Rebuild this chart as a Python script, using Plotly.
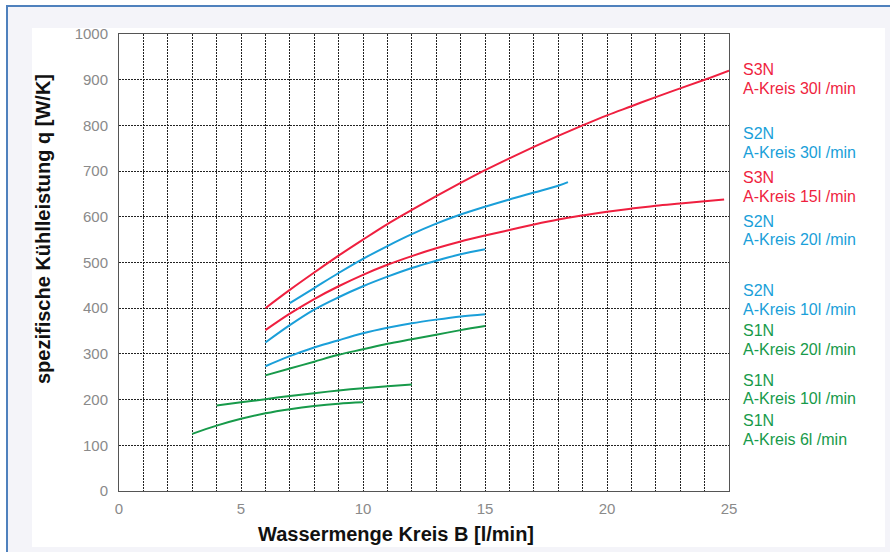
import plotly.graph_objects as go

# ---------------- data ----------------
x_s3n_30 = [6, 7, 8, 9, 10, 11, 12, 13, 14, 15, 16, 17, 18, 19, 20, 21, 22, 23, 24, 25]
y_s3n_30 = [400, 440, 478, 515, 550, 584, 615, 645, 674, 702, 728, 753, 777, 800, 822, 842, 862, 881, 900, 920]

x_s2n_30 = [7, 8, 9, 10, 11, 12, 13, 14, 15, 16, 17, 18, 18.4]
y_s2n_30 = [411, 444, 477, 508, 536, 562, 585, 605, 622, 638, 653, 668, 676]

x_s3n_15 = [6, 7, 8, 9, 10, 11, 12, 13, 14, 15, 16, 17, 18, 19, 20, 21, 22, 23, 24, 24.8]
y_s3n_15 = [352, 388, 420, 448, 473, 495, 514, 531, 546, 559, 571, 583, 594, 603, 611, 618, 624, 629, 634, 638]

x_s2n_20 = [6, 7, 8, 9, 10, 11, 12, 13, 14, 15]
y_s2n_20 = [325, 363, 397, 424, 448, 469, 488, 504, 518, 529]

x_s2n_10 = [6, 7, 8, 9, 10, 11, 12, 13, 14, 15]
y_s2n_10 = [273, 295, 314, 330, 345, 357, 367, 375, 382, 387]

x_s1n_20 = [6, 7, 8, 9, 10, 11, 12, 13, 14, 15]
y_s1n_20 = [253, 268, 283, 298, 310, 322, 332, 342, 352, 361]

x_s1n_10 = [4, 5, 6, 7, 8, 9, 10, 11, 12]
y_s1n_10 = [187, 194, 201, 208, 214, 220, 225, 229, 233]

x_s1n_6 = [3, 4, 5, 6, 7, 8, 9, 10]
y_s1n_6 = [125, 143, 158, 170, 179, 186, 191, 194]

series_names = ["S3N A-Kreis 30l /min", "S2N A-Kreis 30l /min", "S3N A-Kreis 15l /min",
                "S2N A-Kreis 20l /min", "S2N A-Kreis 10l /min", "S1N A-Kreis 20l /min",
                "S1N A-Kreis 10l /min", "S1N A-Kreis 6l /min"]
label_top = ["S3N", "S2N", "S3N", "S2N", "S2N", "S1N", "S1N", "S1N"]
label_bottom = ["A-Kreis 30l /min", "A-Kreis 30l /min", "A-Kreis 15l /min", "A-Kreis 20l /min",
                "A-Kreis 10l /min", "A-Kreis 20l /min", "A-Kreis 10l /min", "A-Kreis 6l /min"]

x_ticks = [0, 5, 10, 15, 20, 25]
y_ticks = [0, 100, 200, 300, 400, 500, 600, 700, 800, 900, 1000]

x_title = "Wassermenge Kreis B [l/min]"
y_title = "spezifische Kühlleistung q [W/K]"

# ---------------- styling ----------------
RED = "#ef1f3f"
BLUE = "#1a9fd9"
GREEN = "#179a4a"
colors = [RED, BLUE, RED, BLUE, BLUE, GREEN, GREEN, GREEN]
series_x = [x_s3n_30, x_s2n_30, x_s3n_15, x_s2n_20, x_s2n_10, x_s1n_20, x_s1n_10, x_s1n_6]
series_y = [y_s3n_30, y_s2n_30, y_s3n_15, y_s2n_20, y_s2n_10, y_s1n_20, y_s1n_10, y_s1n_6]

W, H = 890, 552
L, R, T, B = 119, 729, 34, 491   # plot area in pixels


def px(xp):
    return (xp - L) / (R - L)


def py(yp):
    return (B - yp) / (B - T)


FONT = "Liberation Sans, Arial, Helvetica, sans-serif"

fig = go.Figure()
for xs, ys, c, n in zip(series_x, series_y, colors, series_names):
    fig.add_trace(go.Scatter(x=xs, y=ys, mode="lines", name=n,
                             line=dict(color=c, width=2, shape="spline", smoothing=1.0),
                             hoverinfo="x+y+name"))

# background frame shapes
shapes = [
    dict(type="rect", xref="paper", yref="paper", x0=px(6), x1=px(W + 5), y0=py(5), y1=py(H + 5),
         fillcolor="#f4f4f9", line=dict(width=0), layer="below"),
    dict(type="rect", xref="paper", yref="paper", x0=px(32), x1=px(885), y0=py(28), y1=py(547),
         fillcolor="white", line=dict(width=0), layer="below"),
    dict(type="line", xref="paper", yref="paper", x0=px(7), x1=px(7), y0=py(5), y1=py(H + 5),
         line=dict(color="#4f81bd", width=2), layer="below"),
    dict(type="line", xref="paper", yref="paper", x0=px(6), x1=px(W + 5), y0=py(6), y1=py(6),
         line=dict(color="#4f81bd", width=2), layer="below"),
]

# right-hand labels (pixel centres of the two text lines)
label_rows = [(69.5, 88), (133.5, 152), (177.5, 196), (221, 239.5),
              (290.5, 309), (330.5, 349), (380.5, 399), (420.5, 439)]
annotations = []
for (y1, y2), t1, t2, c in zip(label_rows, label_top, label_bottom, colors):
    for yy, tt in ((y1, t1), (y2, t2)):
        annotations.append(dict(text=tt, xref="paper", yref="paper", x=px(741), y=py(yy),
                                xanchor="left", yanchor="middle", showarrow=False,
                                font=dict(family=FONT, size=16, color=c)))

annotations.append(dict(text="<b>%s</b>" % x_title, xref="paper", yref="paper",
                        x=px(396), y=py(534), xanchor="center", yanchor="middle",
                        showarrow=False, font=dict(family=FONT, size=20, color="#111")))
annotations.append(dict(text="<b>%s</b>" % y_title, xref="paper", yref="paper",
                        x=px(43), y=py(229), xanchor="center", yanchor="middle", textangle=-90,
                        showarrow=False, font=dict(family=FONT, size=20, color="#111")))

grid_common = dict(gridcolor="#222222", gridwidth=1, griddash="2px,1px")

fig.update_layout(
    width=W, height=H,
    margin=dict(l=L, r=W - R, t=T, b=H - B, pad=0),
    paper_bgcolor="white", plot_bgcolor="white",
    showlegend=False,
    shapes=shapes, annotations=annotations,
    xaxis=dict(range=[0, 25], tickvals=x_ticks, ticktext=[str(v) for v in x_ticks],
               showgrid=True, **grid_common,
               minor=dict(dtick=1, showgrid=True, **grid_common),
               zeroline=False, showline=True, linecolor="#555", linewidth=1, mirror=True,
               ticks="", ticklabelstandoff=4,
               tickfont=dict(family=FONT, size=15, color="#8a8a8a")),
    yaxis=dict(range=[0, 1000], tickvals=y_ticks, ticktext=[str(v) for v in y_ticks],
               showgrid=True, **grid_common,
               zeroline=False, showline=True, linecolor="#555", linewidth=1, mirror=True,
               ticks="", ticklabelstandoff=7,
               tickfont=dict(family=FONT, size=15, color="#8a8a8a")),
)

fig.write_html("out.html", config={"displayModeBar": False},
               post_script="document.body.style.margin='0';")
